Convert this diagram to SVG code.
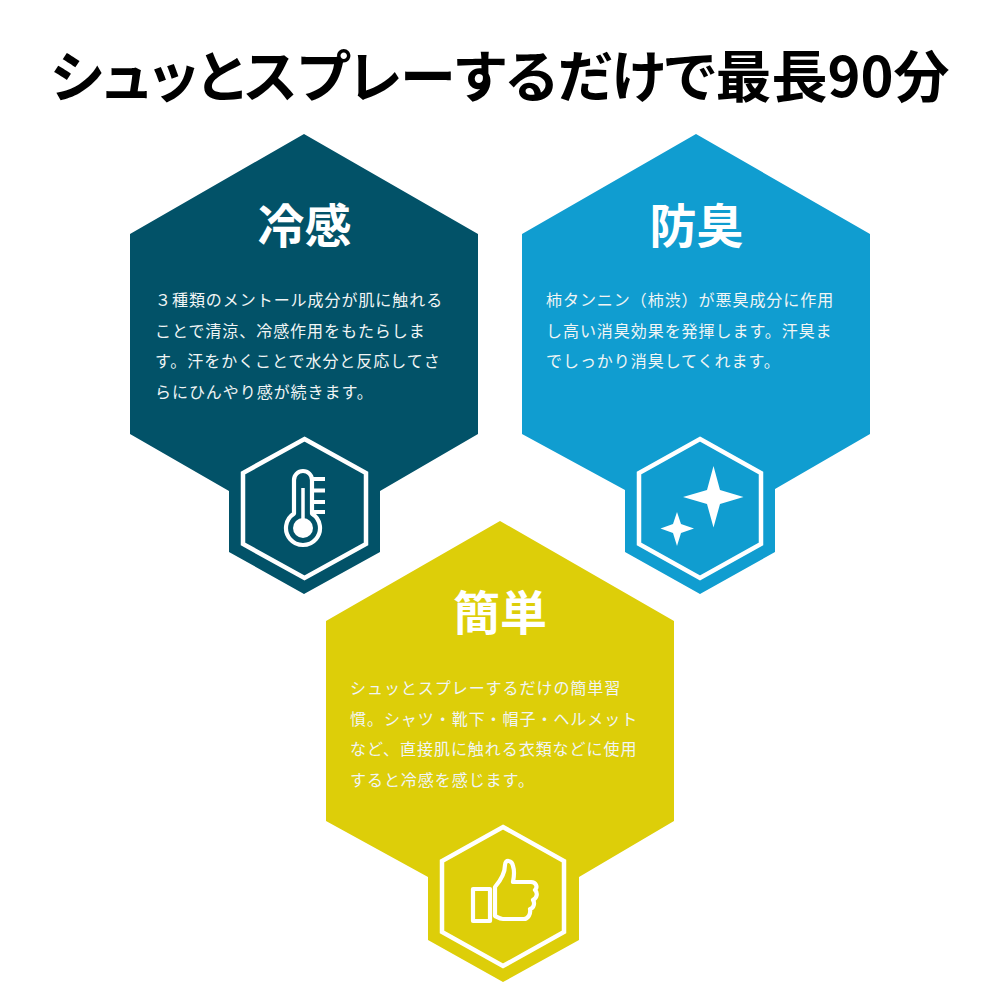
<svg xmlns="http://www.w3.org/2000/svg" width="1000" height="1000" viewBox="0 0 1000 1000">
<style>
text{font-family:"Noto Sans CJK JP","Noto Sans",sans-serif;fill:#fff}
.t{font-size:47px;font-weight:700;text-anchor:middle}
.b{font-size:16px;font-weight:400;letter-spacing:.95px;fill:#f1f5f5}
.ih{fill:none;stroke:#fff;stroke-width:4.5}
.ic{fill:none;stroke:#fff;stroke-width:4.2;stroke-linejoin:round;stroke-linecap:round}
</style>
<rect width="1000" height="1000" fill="#fff"/>
<text id="title" x="500" y="97" text-anchor="middle" style="font-size:56px;font-weight:700;fill:#000;font-feature-settings:'palt'">シュッとスプレーするだけで最長90分</text>
<g id="node-cool">
<polygon fill="#025268" points="304,134 478,234 478,434 380,491 380,552 304,594 229,552 229,491 130,434 130,234"/>
<text class="t" x="304.500" y="243">冷感</text>
<text class="b"><tspan x="155" y="306">３種類のメントール成分が肌に触れる</tspan><tspan x="155" y="336.700">ことで清涼、冷感作用をもたらしま</tspan><tspan x="155" y="367.400">す。汗をかくことで水分と反応してさ</tspan><tspan x="155" y="398">らにひんやり感が続きます。</tspan></text>
<polygon class="ih" points="304.500,439 366,473 366,544 304.500,578 243,544 243,473"/>
<path class="ic" d="M294,513.600V480a9,9 0 0 1 18,0V513.600a17,17 0 1 1-18,0Z"/>
<circle cx="303" cy="528" r="10" fill="#fff"/>
<path d="M303,528V488" stroke="#fff" stroke-width="3.500"/>
<path d="M312,479H325M312,490.500H325M312,502H325M312,512H325" stroke="#fff" stroke-width="4"/>
</g>
<g id="node-deodorant">
<polygon fill="#109dd0" points="696,134 870,234 870,434 775,489 775,552 700,594 625,552 625,490 522,434 522,234"/>
<text class="t" x="696.500" y="243">防臭</text>
<text class="b"><tspan x="546" y="306">柿タンニン（柿渋）が悪臭成分に作用</tspan><tspan x="546" y="336.700">し高い消臭効果を発揮します。汗臭ま</tspan><tspan x="546" y="367.400">でしっかり消臭してくれます。</tspan></text>
<polygon class="ih" points="700,439 761,473 761,544 700,578 639,544 639,473"/>
<path fill="#fff" d="M713.500,466L720,490L743.500,497L720,504L713.500,527.500L707,504L683,497L707,490Z"/>
<path fill="#fff" d="M677,512L681,524L694,528.500L681,533L677,546L673,533L660.500,528.500L673,524Z"/>
</g>
<g id="node-easy">
<polygon fill="#ddce09" points="500,521 674,621 674,821 579,877 579,940 503,982 428,940 428,877 326,821 326,621"/>
<text class="t" x="500" y="630">簡単</text>
<text class="b"><tspan x="350" y="694">シュッとスプレーするだけの簡単習</tspan><tspan x="350" y="724.700">慣。シャツ・靴下・帽子・ヘルメット</tspan><tspan x="350" y="755.400">など、直接肌に触れる衣類などに使用</tspan><tspan x="350" y="786">すると冷感を感じます。</tspan></text>
<polygon class="ih" points="503,827 564,861 564,932 503,966 442,932 442,861"/>
<rect class="ic" x="473" y="889" width="17" height="32"/>
<path class="ic" d="M495,887C501,880 505,873 505,865C505,859 512,860 513,866C515,872 514,877 513,882H531C536,882 538,887 535,890C538,893 537,898 533,900C535,903 534,908 530,909C531,914 528,919 524,919H503C500,919 497,917 495,916Z"/>
</g>
<g id="connectors"></g>
</svg>
